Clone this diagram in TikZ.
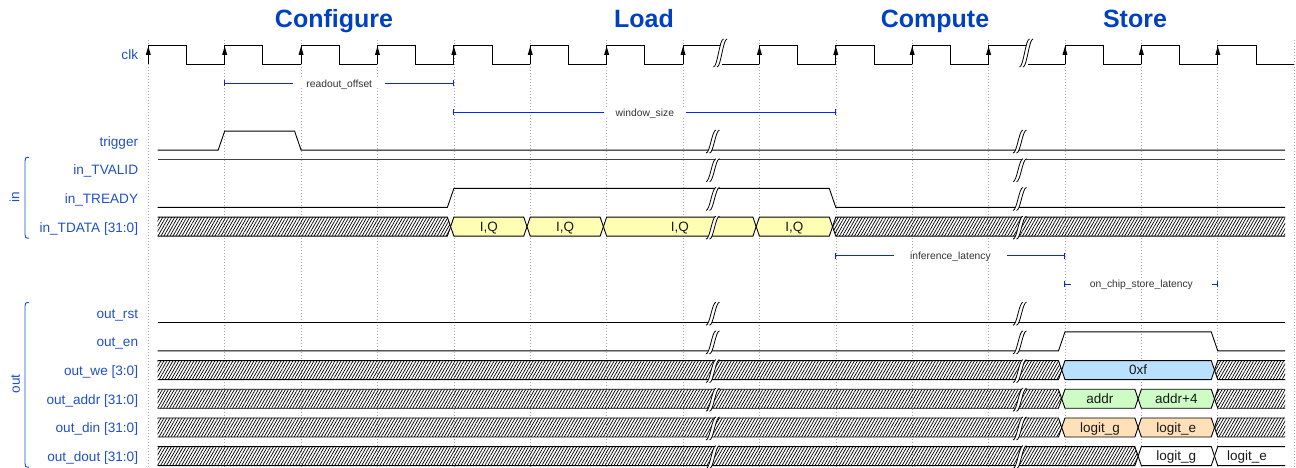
\documentclass[tikz,border=0pt]{standalone}
\usepackage{fontspec}
\setmainfont{Liberation Sans}
\usetikzlibrary{patterns.meta}
\definecolor{headblue}{RGB}{0,65,196}
\definecolor{lblblue}{RGB}{32,80,200}
\definecolor{annblue}{RGB}{10,40,225}
\definecolor{cyel}{HTML}{FFFFB4}
\definecolor{cblue}{HTML}{B9E0FF}
\definecolor{cgreen}{HTML}{CDFDC5}
\definecolor{corange}{HTML}{FFE0B9}
\tikzset{
  sig/.style={line width=0.9bp, black, line join=miter},
  brkline/.style={line width=0.8bp, black},
  hatch/.style={pattern={Lines[angle=60,distance=2.6bp,line width=0.72bp]}},
  gridl/.style={line width=0.6bp, black!35, dash pattern=on 1bp off 2bp},
  head/.style={font=\bfseries\fontsize{25bp}{30bp}\selectfont, text=headblue, anchor=base, inner sep=0pt},
  lbl/.style={font=\fontsize{13.6bp}{16bp}\selectfont, text=lblblue, anchor=base east, inner sep=0pt},
  grptxt/.style={font=\fontsize{13.6bp}{16bp}\selectfont, text=lblblue, anchor=base, inner sep=0pt, rotate=90},
  grp/.style={line width=0.9bp, lblblue},
  buslbl/.style={font=\fontsize{13.5bp}{16bp}\selectfont, text=black!90, anchor=base, inner sep=0pt},
  annline/.style={line width=1bp, annblue},
  anntxt/.style={font=\fontsize{10.3bp}{12bp}\selectfont, text=black!80, fill=white, text height=7.4bp, text depth=0bp, inner ysep=1bp},
}
% bus helpers
\newcommand\busstart[2]{% #1 xb, #2 top
  \fill[hatch] (157.7,#2) -- ({#1-6.5},#2) -- ({#1-3.25},{#2+9.5}) -- ({#1-6.5},{#2+19}) -- (157.7,{#2+19}) -- cycle;
  \draw[sig] (157.7,#2) -- ({#1-6.5},#2) -- ({#1-3.25},{#2+9.5}) -- ({#1-6.5},{#2+19}) -- (157.7,{#2+19});}
\newcommand\busseg[6]{% #1 name, #2 xa, #3 xb, #4 top, #5 fill, #6 label
  \draw[sig,#5] ({#2-3.25},{#4+9.5}) -- (#2,#4) -- ({#3-6.5},#4) -- ({#3-3.25},{#4+9.5}) -- ({#3-6.5},{#4+19}) -- (#2,{#4+19}) -- cycle;
  \node[buslbl] (#1) at ({(#2+#3)/2-3.25},{#4+14.3}) {#6};}
\newcommand\hatchend[2]{% #1 xa, #2 top
  \fill[hatch] ({#1-3.25},{#2+9.5}) -- (#1,#2) -- (1285,#2) -- (1285,{#2+19}) -- (#1,{#2+19}) -- cycle;
  \draw[sig] (1285,#2) -- (#1,#2) -- ({#1-3.25},{#2+9.5}) -- (#1,{#2+19}) -- (1285,{#2+19});}
\newcommand\busend[6]{% #1 name, #2 xa, #3 top, #4 fill, #5 label, #6 label x
  \fill[#4] ({#2-3.25},{#3+9.5}) -- (#2,#3) -- (1285,#3) -- (1285,{#3+19}) -- (#2,{#3+19}) -- cycle;
  \draw[sig] (1285,#3) -- (#2,#3) -- ({#2-3.25},{#3+9.5}) -- (#2,{#3+19}) -- (1285,{#3+19});
  \node[buslbl] (#1) at (#6,{#3+14.3}) {#5};}
\newcommand\annot[6]{% #1 name, #2 x1, #3 x2, #4 y, #5 xsep, #6 text
  \draw[annline] (#2,#4) -- (#3,#4);
  \draw[annline] (#2,{#4-3}) -- (#2,{#4+3});
  \draw[annline] (#3,{#4-3}) -- (#3,{#4+3});
  \node[anntxt, inner xsep=#5] (#1) at ({(#2+#3)/2},#4) {#6};}
\newcommand\brkmark[3]{% #1 cx, #2 cy, #3 h
  \fill[white] ({#1-5},{#2+#3/2}) .. controls ({#1-1},{#2+#3/2}) and ({#1+1},{#2-#3/2}) .. ({#1+5},{#2-#3/2}) -- ({#1+8.5},{#2-#3/2}) .. controls ({#1+4.5},{#2-#3/2}) and ({#1+2.5},{#2+#3/2}) .. ({#1-1.5},{#2+#3/2}) -- cycle;
  \draw[brkline] ({#1-5},{#2+#3/2}) .. controls ({#1-1},{#2+#3/2}) and ({#1+1},{#2-#3/2}) .. ({#1+5},{#2-#3/2});
  \draw[brkline] ({#1-1.5},{#2+#3/2}) .. controls ({#1+2.5},{#2+#3/2}) and ({#1+4.5},{#2-#3/2}) .. ({#1+8.5},{#2-#3/2});}
\begin{document}
\begin{tikzpicture}[x=1bp,y=-1bp]
\useasboundingbox (0,0) rectangle (1296,468);
% grid
\foreach \k in {0,...,15} \draw[gridl] ({148.3+76.39*\k},40) -- ({148.3+76.39*\k},468);
% headings
\node[head] (hconf) at (334,28) {Configure};
\node[head] (hload) at (644,28) {Load};
\node[head] (hcomp) at (935,28) {Compute};
\node[head] (hstore) at (1135,28) {Store};
% lane labels
\node[lbl] (lclk) at (138.3,60) {clk};
\node[lbl] (ltrig) at (138.3,146.07) {trigger};
\node[lbl] (ltv) at (138.3,174.76) {in\_TVALID};
\node[lbl] (ltr) at (138.3,203.45) {in\_TREADY};
\node[lbl] (ltd) at (138.3,232.14) {in\_TDATA [31:0]};
\node[lbl] (lrst) at (138.3,318.21) {out\_rst};
\node[lbl] (len) at (138.3,346.9) {out\_en};
\node[lbl] (lwe) at (138.3,375.59) {out\_we [3:0]};
\node[lbl] (laddr) at (138.3,404.28) {out\_addr [31:0]};
\node[lbl] (ldin) at (138.3,432.97) {out\_din [31:0]};
\node[lbl] (ldout) at (138.3,461.66) {out\_dout [31:0]};
% groups
\draw[grp] (29,157.3) .. controls (25.5,157.3) and (25,158) .. (25,161) -- (25,234.5) .. controls (25,237.5) and (25.5,238.2) .. (29,238.2);
\node[grptxt] (gin) at (19.3,197.5) {in};
\draw[grp] (29,302.5) .. controls (25.5,302.5) and (25,303.2) .. (25,306.2) -- (25,463.5) .. controls (25,466.5) and (25.5,467.2) .. (29,467.2);
\node[grptxt] (gout) at (19.8,384) {out};
% clock
\foreach \k in {0,1,2,3,4,5,6,8,9,10,12,13,14}
  \draw[sig] ({148.3+76.39*\k},64) -- ++(0,-19) -- ++(38.2,0) -- ++(0,19) -- ++(38.19,0);
\draw[sig] (683.03,64) -- (683.03,45) -- (720.5,45);
\draw[sig] (721.5,64) -- (759.42,64);
\draw[sig] (988.59,64) -- (988.59,45) -- (1026.5,45);
\draw[sig] (1027.5,64) -- (1064.98,64);
\foreach \k in {0,...,14}
  \fill ({148.3+76.39*\k},46.3) -- ++(-2.5,8.5) -- ++(5,0) -- cycle;
% single-bit signals
\draw[sig] (157.7,150.07) -- (218.19,150.07) -- (224.69,131.07) -- (294.58,131.07) -- (301.08,150.07) -- (1285,150.07);
\draw[sig, line width=1.3bp, black!75] (157.7,159.76) -- (1285,159.76);
\draw[sig] (157.7,207.45) -- (447.36,207.45) -- (453.86,188.45) -- (829.31,188.45) -- (835.81,207.45) -- (1285,207.45);
\draw[sig] (157.7,322.21) -- (1285,322.21);
\draw[sig] (157.7,350.9) -- (1058.48,350.9) -- (1064.98,331.9) -- (1211.26,331.9) -- (1217.76,350.9) -- (1285,350.9);
% in_TDATA
\busstart{453.86}{217.14}
\busseg{iq1}{453.86}{530.25}{217.14}{fill=cyel}{I,Q}
\busseg{iq2}{530.25}{606.64}{217.14}{fill=cyel}{I,Q}
\busseg{iq3}{606.64}{759.42}{217.14}{fill=cyel}{I,Q}
\busseg{iq4}{759.42}{835.81}{217.14}{fill=cyel}{I,Q}
\hatchend{835.81}{217.14}
% out_we
\busstart{1064.98}{360.59}
\busseg{we}{1064.98}{1217.76}{360.59}{fill=cblue}{0xf}
\hatchend{1217.76}{360.59}
% out_addr
\busstart{1064.98}{389.28}
\busseg{ad1}{1064.98}{1141.37}{389.28}{fill=cgreen}{addr}
\busseg{ad2}{1141.37}{1217.76}{389.28}{fill=cgreen}{addr+4}
\hatchend{1217.76}{389.28}
% out_din
\busstart{1064.98}{417.97}
\busseg{di1}{1064.98}{1141.37}{417.97}{fill=corange}{logit\_g}
\busseg{di2}{1141.37}{1217.76}{417.97}{fill=corange}{logit\_e}
\hatchend{1217.76}{417.97}
% out_dout
\busstart{1141.37}{446.66}
\busseg{do1}{1141.37}{1217.76}{446.66}{fill=white}{logit\_g}
\busend{do2}{1217.76}{446.66}{white}{logit\_e}{1247}
% annotations
\annot{a1}{224.69}{453.86}{83.5}{13bp}{readout\_offset}
\annot{a2}{453.86}{835.81}{112.4}{12bp}{window\_size}
\annot{a3}{835.81}{1064.98}{255.7}{16bp}{inference\_latency}
\annot{a4}{1064.98}{1217.76}{284.3}{19bp}{on\_chip\_store\_latency}
% breaks
\brkmark{718.5}{53}{28}
\brkmark{1024.5}{53}{28}
\foreach \cy in {141.57,170.26,198.95,227.64,313.71,342.4,371.09,399.78,428.47,457.16} {
  \brkmark{711}{\cy}{23}
  \brkmark{1018}{\cy}{23}
}
\end{tikzpicture}
\end{document}
